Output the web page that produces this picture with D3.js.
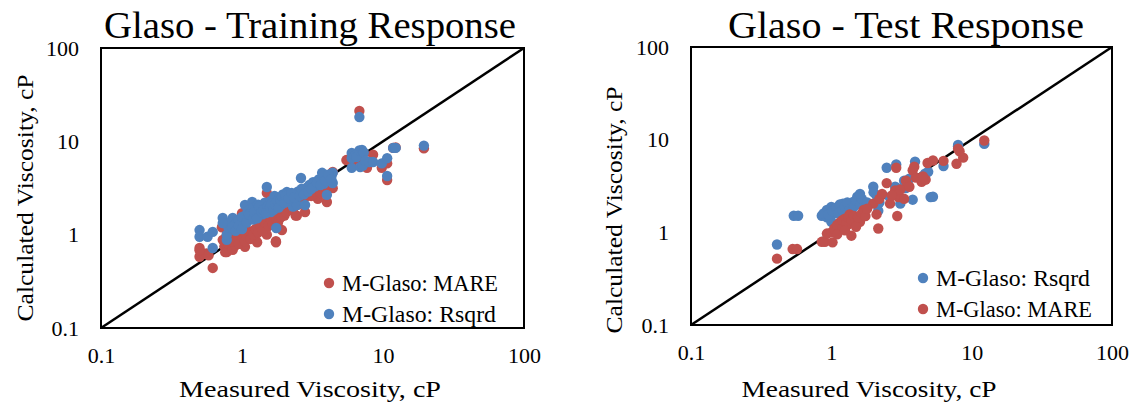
<!DOCTYPE html>
<html>
<head>
<meta charset="utf-8">
<script src="https://cdn.jsdelivr.net/npm/d3@7"></script>
<style>
  html, body { margin: 0; padding: 0; background: #fff; }
  svg { display: block; font-family: "Liberation Serif", "DejaVu Serif", serif; }
</style>
</head>
<body>
<svg id="chart" width="1139" height="405"></svg>
<script>
// Measured vs calculated viscosity (cP), training set
const trainMare = [
  [0.50,0.72],[0.50,0.58],[0.53,0.62],[0.56,0.63],[0.50,0.68],[0.58,0.60],[0.62,0.44],
  [0.73,0.88],[0.72,1.20],[0.75,0.75],[0.76,0.65],[0.78,0.65],[0.80,0.80],[0.85,0.72],
  [0.86,0.69],[0.90,0.77],[0.92,0.85],[0.95,0.90],[1.00,0.88],[1.00,0.80],[1.00,1.70],
  [1.05,1.00],[1.05,0.74],[1.10,0.90],[1.15,1.05],[1.18,0.95],[1.20,1.10],[1.25,1.00],
  [1.28,0.83],[1.30,1.20],[1.34,1.12],[1.40,1.30],[1.45,1.15],[1.50,1.20],[1.50,1.00],
  [1.50,2.80],[1.55,1.40],[1.60,1.35],[1.65,1.50],[1.70,1.30],[1.74,0.83],[1.74,0.85],
  [1.80,1.60],[1.85,1.50],[1.92,1.12],[1.95,1.70],[2.00,1.90],[2.10,1.80],[2.20,2.00],
  [2.40,1.60],[2.45,1.60],[2.50,2.10],[2.60,2.30],[2.80,1.75],[2.90,2.60],[3.00,2.80],
  [3.20,3.00],[3.45,2.42],[3.50,3.30],[3.80,3.60],[4.00,2.24],[4.20,3.20],[4.40,3.15],
  [4.40,4.70],[4.10,4.00],[5.50,6.30],[6.00,6.00],[6.20,7.00],[6.50,6.50],[6.80,21.2],
  [7.00,6.00],[7.30,7.50],[7.70,5.20],[8.50,7.20],[9.80,5.20],[10.7,5.80],[10.7,3.85],
  [11.8,8.50],[12.3,8.60],[19.5,8.40],
  [0.80,0.90],[0.85,0.85],[0.88,0.95],[0.95,0.80],[1.00,0.95],[1.05,0.85],[1.08,0.95],
  [1.10,1.10],[1.15,0.90],[1.20,1.00],[1.25,1.15],[1.30,1.05],[1.35,1.25],[1.40,1.10],
  [1.45,1.35],[1.55,1.25],[1.60,1.45],[1.65,1.30],[1.75,1.45],[1.80,1.35],[1.90,1.55],
  [2.00,1.60],[2.05,1.75],[2.15,1.95],[2.30,1.85],[2.35,2.20],[2.70,2.20],[3.10,2.60],
  [3.30,2.90],[3.60,2.80],[3.90,3.20],[4.30,3.50],[0.78,1.00],[0.82,1.10],[0.90,1.05]
];
const trainRsqrd = [
  [0.50,1.12],[0.50,0.95],[0.57,0.95],[0.62,1.07],[0.62,0.72],[0.73,1.51],[0.78,0.88],
  [0.78,1.00],[0.80,1.20],[0.86,1.51],[0.82,1.35],[0.90,1.30],[0.95,1.45],[1.00,1.30],
  [1.05,2.08],[1.05,1.60],[1.10,1.50],[1.10,1.80],[1.18,2.24],[1.15,1.70],[1.20,1.95],
  [1.25,1.60],[1.30,1.80],[1.30,2.10],[1.35,1.90],[1.40,1.65],[1.40,2.00],[1.45,2.20],
  [1.50,3.24],[1.50,1.90],[1.55,2.10],[1.60,2.30],[1.60,1.75],[1.65,2.00],[1.70,2.40],
  [1.70,2.60],[1.75,1.18],[1.80,2.20],[1.85,2.50],[1.90,2.10],[1.95,2.70],[2.00,2.40],
  [2.08,2.86],[2.10,2.30],[2.20,2.60],[2.30,2.00],[2.45,2.08],[2.40,2.70],[2.50,2.90],
  [2.62,4.05],[2.70,3.00],[2.80,2.08],[2.90,3.20],[3.00,3.40],[3.19,3.65],[3.30,3.30],
  [3.50,3.90],[3.70,4.60],[3.80,3.50],[4.00,2.67],[4.00,4.00],[4.20,3.80],[4.40,4.60],
  [4.40,3.58],[4.30,4.20],[6.00,6.60],[6.00,7.50],[6.30,7.00],[6.50,6.80],[6.80,8.00],
  [7.10,8.10],[7.30,7.60],[6.80,18.2],[6.00,5.20],[6.90,5.30],[7.20,5.50],[7.50,6.20],
  [8.00,6.00],[8.50,6.00],[9.80,5.80],[10.7,6.60],[10.7,4.25],[11.8,8.50],[12.3,8.50],
  [19.5,9.00],
  [0.73,1.33],[0.85,1.20],[0.90,1.10],[0.95,1.25],[1.00,1.55],[1.00,1.15],[1.08,1.35],
  [1.12,1.65],[1.20,1.45],[1.22,1.75],[1.28,1.50],[1.32,2.00],[1.38,1.75],[1.42,1.85],
  [1.48,1.70],[1.52,2.00],[1.58,1.95],[1.62,2.15],[1.68,1.85],[1.72,2.10],[1.78,2.30],
  [1.82,1.95],[1.88,2.35],[1.92,2.55],[2.00,2.20],[2.05,2.60],[2.15,2.45],[2.25,2.80],
  [2.35,2.50],[2.55,2.60],[2.65,3.10],[2.75,2.70],[2.95,2.90],[3.10,3.10],[3.40,3.60],
  [3.60,3.40],[3.90,3.80],[4.10,4.40],[4.30,3.90]
];

// Measured vs calculated viscosity (cP), test set
const testRsqrd = [
  [0.41,0.74],[0.54,1.51],[0.58,1.51],[0.855,1.51],[0.93,1.74],[1.00,1.88],[0.93,1.45],
  [1.00,1.30],[1.05,1.60],[1.10,1.70],[1.21,2.04],[1.30,1.85],[1.43,2.13],[1.53,2.42],
  [1.40,1.60],[1.70,2.04],[1.99,3.10],[2.10,2.50],[2.16,1.71],[2.48,4.98],[2.90,5.40],
  [2.85,3.10],[2.60,2.40],[3.10,2.04],[3.30,3.60],[3.80,2.25],[3.95,5.80],[4.65,4.30],
  [5.10,2.40],[5.30,2.42],[6.30,5.20],[8.00,8.75],[12.3,9.00],
  [0.88,1.60],[0.95,1.55],[1.02,1.70],[1.08,1.85],[1.12,1.60],[1.15,2.00],[1.20,1.75],
  [1.25,1.90],[1.30,2.10],[1.35,1.75],[1.45,1.90],[1.50,2.20],[1.60,2.00],[1.65,2.30],
  [1.60,2.60],[1.80,2.10],[2.00,2.70],[2.20,2.10],[2.95,3.00],[3.40,3.00],[3.60,3.80],
  [4.40,3.90],[4.90,4.50],[8.00,8.50]
];
const testMare = [
  [0.41,0.52],[0.53,0.66],[0.57,0.66],[0.855,0.79],[0.90,0.79],[1.02,0.78],[0.93,0.97],
  [1.00,1.00],[1.15,1.28],[1.25,1.40],[1.35,1.56],[1.39,0.92],[1.30,1.20],[1.50,1.30],
  [1.60,1.30],[1.70,1.74],[1.60,1.50],[1.99,2.04],[2.10,1.56],[2.16,1.10],[2.48,3.40],
  [2.62,2.04],[2.85,2.84],[2.95,1.50],[2.90,4.98],[3.00,2.40],[3.30,2.30],[3.50,3.20],
  [3.80,4.68],[3.90,5.10],[4.40,3.50],[4.70,3.70],[4.85,5.60],[5.30,5.96],[6.30,5.90],
  [7.80,5.50],[8.00,8.00],[8.70,6.40],[12.3,9.80],
  [1.05,1.10],[1.10,1.20],[1.20,1.10],[1.20,1.35],[1.28,1.25],[1.32,1.45],[1.40,1.35],
  [1.45,1.50],[1.50,1.15],[1.55,1.45],[1.65,1.60],[1.75,1.50],[1.80,1.80],[1.10,0.95],
  [1.25,1.05],[2.20,2.30],[2.30,2.60],[2.70,2.50],[3.10,2.90],[3.40,3.60],[3.60,3.10],
  [4.00,3.90],[4.50,4.00],[8.20,7.50]
];

const tickValues = [0.1, 1, 10, 100];
const red = "#C0504D", blue = "#4F81BD";

const svg = d3.select("#chart");

function panel(cfg) {
  const g = svg.append("g");
  const x = d3.scaleLog().domain([0.1, 100]).range([cfg.left, cfg.right]);
  const y = d3.scaleLog().domain([0.1, 100]).range([cfg.bottom, cfg.top]);

  // title
  g.append("text")
    .attr("x", cfg.titleX).attr("y", 38)
    .attr("text-anchor", "middle")
    .attr("font-size", 37)
    .attr("textLength", cfg.titleW).attr("lengthAdjust", "spacingAndGlyphs")
    .text(cfg.title);

  // axes with labels only
  const xAxis = d3.axisBottom(x).tickValues(tickValues).tickSize(0).tickPadding(0)
    .tickFormat(d3.format("~g"));
  const yAxis = d3.axisLeft(y).tickValues(tickValues).tickSize(0).tickPadding(0)
    .tickFormat(d3.format("~g"));

  const gx = g.append("g").attr("transform", `translate(0,${cfg.bottom + 27})`).call(xAxis);
  gx.select(".domain").remove();
  gx.selectAll("text").attr("font-size", 22).attr("font-family", "Liberation Serif")
    .attr("fill", "#000").attr("dy", "0.35em").attr("y", 0);

  const gy = g.append("g").attr("transform", `translate(${cfg.left - 22},0)`).call(yAxis);
  gy.select(".domain").remove();
  gy.selectAll("text").attr("font-size", 22).attr("font-family", "Liberation Serif")
    .attr("fill", "#000").attr("x", 0);

  // axis titles
  g.append("text")
    .attr("x", cfg.xTitleX).attr("y", 397)
    .attr("text-anchor", "middle").attr("font-size", 24)
    .attr("textLength", cfg.xTitleW).attr("lengthAdjust", "spacingAndGlyphs")
    .text("Measured Viscosity, cP");
  g.append("text")
    .attr("transform", `translate(${cfg.yTitleX},${cfg.yTitleY}) rotate(-90)`)
    .attr("text-anchor", "middle").attr("font-size", 24)
    .attr("textLength", 247).attr("lengthAdjust", "spacingAndGlyphs")
    .text("Calculated Viscosity, cP");

  // 1:1 line
  g.append("line")
    .attr("x1", x(0.1)).attr("y1", y(0.1))
    .attr("x2", x(100)).attr("y2", y(100))
    .attr("stroke", "#000").attr("stroke-width", 2.5);

  // points
  cfg.series.forEach(s => {
    g.append("g").selectAll("circle").data(s.data).join("circle")
      .attr("cx", d => x(d[0])).attr("cy", d => y(d[1]))
      .attr("r", 5.2).attr("fill", s.color);
  });

  // plot frame
  g.append("rect")
    .attr("x", cfg.left).attr("y", cfg.top)
    .attr("width", cfg.right - cfg.left).attr("height", cfg.bottom - cfg.top)
    .attr("fill", "none").attr("stroke", "#000").attr("stroke-width", 2);

  // legend
  cfg.legend.forEach((s, i) => {
    const ly = cfg.legendY + i * 31;
    g.append("circle").attr("cx", cfg.legendX).attr("cy", ly).attr("r", 5.2).attr("fill", s.color);
    g.append("text").attr("x", cfg.legendX + 13).attr("y", ly)
      .attr("dy", "0.35em").attr("font-size", 23)
      .attr("textLength", s.w).attr("lengthAdjust", "spacingAndGlyphs")
      .text(s.label);
  });
}

panel({
  title: "Glaso - Training Response", titleX: 310, titleW: 412,
  left: 101, right: 524, top: 48, bottom: 328,
  xTitleX: 310, xTitleW: 262, yTitleX: 33, yTitleY: 198,
  series: [{ data: trainMare, color: red }, { data: trainRsqrd, color: blue }],
  legend: [
    { label: "M-Glaso: MARE", color: red, w: 156 },
    { label: "M-Glaso: Rsqrd", color: blue, w: 154 }
  ],
  legendX: 329, legendY: 283
});

panel({
  title: "Glaso - Test Response", titleX: 906, titleW: 356,
  left: 691, right: 1112, top: 47, bottom: 325,
  xTitleX: 869, xTitleW: 255, yTitleX: 622, yTitleY: 210,
  series: [{ data: testRsqrd, color: blue }, { data: testMare, color: red }],
  legend: [
    { label: "M-Glaso: Rsqrd", color: blue, w: 154 },
    { label: "M-Glaso: MARE", color: red, w: 156 }
  ],
  legendX: 923, legendY: 278
});
</script>
</body>
</html>
